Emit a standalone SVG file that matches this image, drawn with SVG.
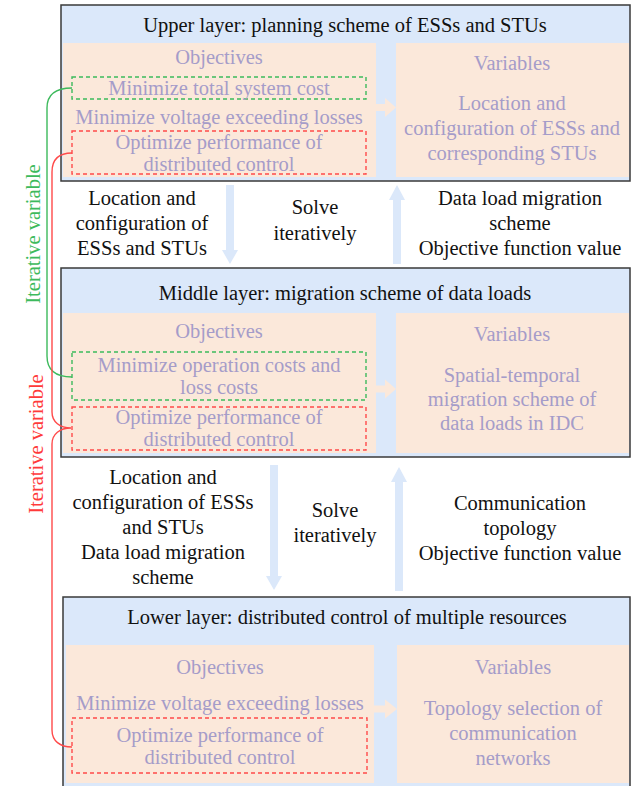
<svg xmlns="http://www.w3.org/2000/svg" width="641" height="786" viewBox="0 0 641 786">
<style>
text{font-family:"Liberation Serif","Times New Roman",serif;font-size:20.5px;text-anchor:middle}
.box{fill:#dbe8fa;stroke:#3a3a3a;stroke-width:1.5}
.panel{fill:#fbe8da}
.head{fill:#111}
.mute{fill:#a59cc9}
.blk{fill:#111}
.dg{fill:none;stroke:#3dba5c;stroke-width:1.4;stroke-dasharray:4 3}
.dr{fill:none;stroke:#ff4a4a;stroke-width:1.4;stroke-dasharray:4 3}
.inarrow{fill:#fbe8da}
.barrow{fill:#dbe8fa}
.cg{fill:none;stroke:#3dba5c;stroke-width:1.4}
.cr{fill:none;stroke:#ff4a4a;stroke-width:1.4}
</style>
<rect width="641" height="786" fill="#fff"/>

<g id="upper-layer">
<rect class="box" x="61" y="5" width="569" height="176"/>
<rect class="panel" x="63" y="43" width="313" height="134"/>
<rect class="panel" x="396" y="43" width="233" height="134"/>
<text class="head" x="345" y="32">Upper layer: planning scheme of ESSs and STUs</text>
<text class="mute" x="219" y="64">Objectives</text>
<rect class="dg" x="72" y="77" width="294" height="22"/>
<text class="mute" x="219" y="95">Minimize total system cost</text>
<text class="mute" x="219" y="124">Minimize voltage exceeding losses</text>
<rect class="dr" x="72" y="131" width="294" height="43"/>
<text class="mute" x="219" y="149">Optimize performance of</text>
<text class="mute" x="219" y="171">distributed control</text>
<text class="mute" x="512" y="70">Variables</text>
<text class="mute" x="512" y="110">Location and</text>
<text class="mute" x="512" y="135">configuration of ESSs and</text>
<text class="mute" x="512" y="160">corresponding STUs</text>
<polygon class="inarrow" points="376,104 385,104 385,98 396,107.5 385,117 385,111 376,111"/>
</g>

<g id="middle-layer">
<rect class="box" x="61" y="268" width="569" height="189"/>
<rect class="panel" x="63" y="313" width="313" height="140"/>
<rect class="panel" x="396" y="313" width="233" height="140"/>
<text class="head" x="345" y="300">Middle layer: migration scheme of data loads</text>
<text class="mute" x="219" y="338">Objectives</text>
<rect class="dg" x="72" y="352" width="294" height="48"/>
<text class="mute" x="219" y="372">Minimize operation costs and</text>
<text class="mute" x="219" y="394">loss costs</text>
<rect class="dr" x="72" y="407" width="294" height="43"/>
<text class="mute" x="219" y="424">Optimize performance of</text>
<text class="mute" x="219" y="446">distributed control</text>
<text class="mute" x="512" y="341">Variables</text>
<text class="mute" x="512" y="382">Spatial-temporal</text>
<text class="mute" x="512" y="406">migration scheme of</text>
<text class="mute" x="512" y="430">data loads in IDC</text>
<polygon class="inarrow" points="376,385.5 385,385.5 385,379.5 396,389 385,398.5 385,392.5 376,392.5"/>
</g>

<g id="lower-layer">
<rect class="box" x="63" y="597" width="567" height="196"/>
<rect class="panel" x="66" y="645" width="308" height="138"/>
<rect class="panel" x="397" y="645" width="232" height="138"/>
<text class="head" x="347" y="624">Lower layer: distributed control of multiple resources</text>
<text class="mute" x="220" y="674">Objectives</text>
<text class="mute" x="220" y="710">Minimize voltage exceeding losses</text>
<rect class="dr" x="72" y="718" width="295" height="55"/>
<text class="mute" x="220" y="742">Optimize performance of</text>
<text class="mute" x="220" y="764">distributed control</text>
<text class="mute" x="513" y="674">Variables</text>
<text class="mute" x="513" y="715">Topology selection of</text>
<text class="mute" x="513" y="740">communication</text>
<text class="mute" x="513" y="765">networks</text>
<polygon class="inarrow" points="374,705.5 385,705.5 385,699.5 397,709 385,718.5 385,712.5 374,712.5"/>
</g>

<g id="between-upper-middle">
<text class="blk" x="142" y="205">Location and</text>
<text class="blk" x="142" y="230">configuration of</text>
<text class="blk" x="142" y="255">ESSs and STUs</text>
<text class="blk" x="315" y="214">Solve</text>
<text class="blk" x="315" y="240">iteratively</text>
<text class="blk" x="520" y="205">Data load migration</text>
<text class="blk" x="520" y="230">scheme</text>
<text class="blk" x="520" y="255">Objective function value</text>
</g>

<g id="between-middle-lower">
<text class="blk" x="163" y="484">Location and</text>
<text class="blk" x="163" y="509">configuration of ESSs</text>
<text class="blk" x="163" y="534">and STUs</text>
<text class="blk" x="163" y="559">Data load migration</text>
<text class="blk" x="163" y="584">scheme</text>
<text class="blk" x="335" y="517">Solve</text>
<text class="blk" x="335" y="542">iteratively</text>
<text class="blk" x="520" y="510">Communication</text>
<text class="blk" x="520" y="535">topology</text>
<text class="blk" x="520" y="560">Objective function value</text>
</g>

<g id="connectors">
<polygon class="barrow" points="226,185 234,185 234,250 238,250 230,264 222,250 226,250"/>
<polygon class="barrow" points="393,264 401,264 401,200 405,200 397,185 389,200 393,200"/>
<polygon class="barrow" points="270,465 278,465 278,576 282,576 274,590 266,576 270,576"/>
<polygon class="barrow" points="395,591 403,591 403,482 407,482 399,467 391,482 395,482"/>
<path class="cg" d="M72,88 C57,88 47,93 47,108 L47,356 C47,371 57,377 72,377"/>
<path class="cr" d="M72,153 C59,153 52,159 52,172 L52,412 C52,422 60,428 71,428 C60,428 52,434 52,444 L52,730 C52,741 60,747 72,747"/>
</g>

<g id="labels">
<text transform="translate(40,234) rotate(-90)" x="0" y="0" fill="#3dba5c">Iterative variable</text>
<text transform="translate(43,444) rotate(-90)" x="0" y="0" fill="#ff3a3a">Iterative variable</text>
</g>
</svg>
